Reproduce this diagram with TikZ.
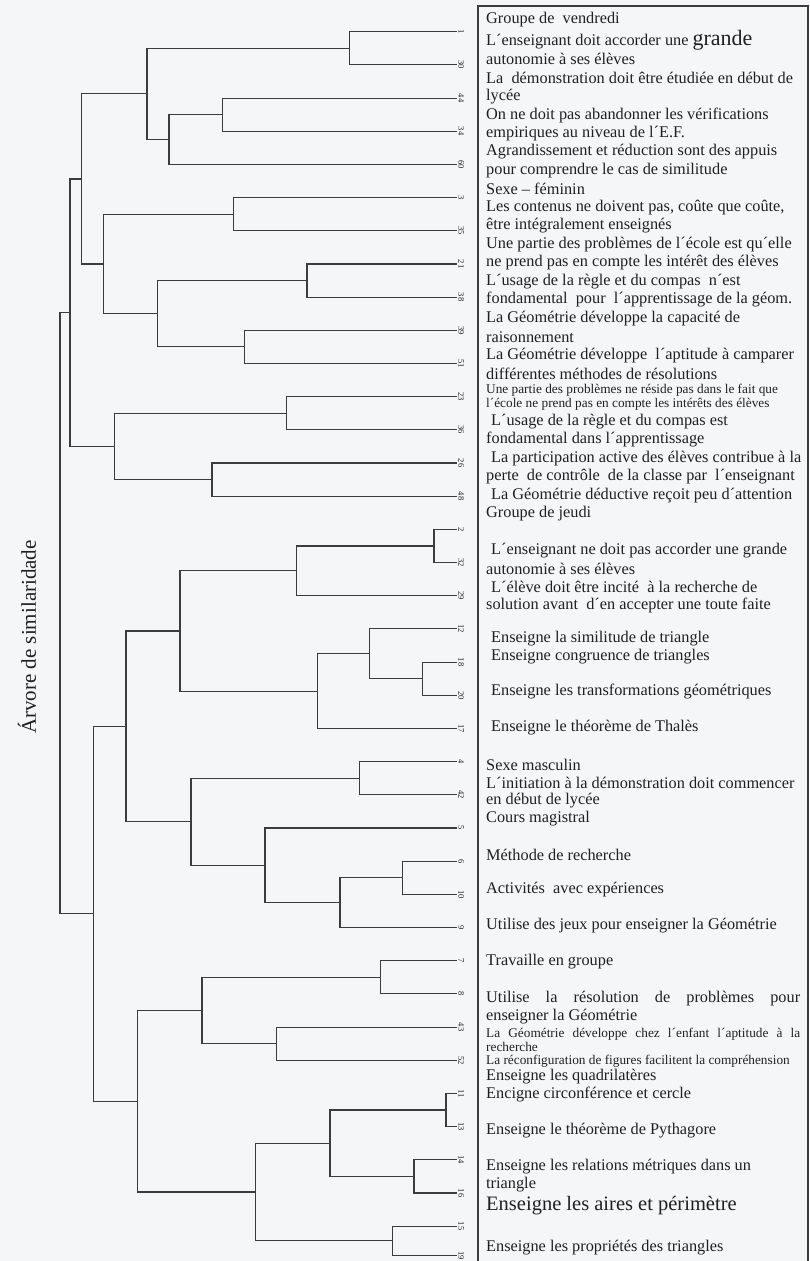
\documentclass[tikz,border=0pt]{standalone}
\usepackage{fontspec}
\setmainfont{Liberation Serif}
\definecolor{ink}{RGB}{32,32,32}
\definecolor{wire}{RGB}{60,60,60}
\definecolor{paper}{RGB}{244,246,248}

\tikzset{
  branch/.style={draw=wire, line width=1.1pt},
  leaflab/.style={rotate=-90, anchor=south, inner sep=1.5pt, text=ink, font=\fontsize{8.5}{8.5}\selectfont},
  item/.style={anchor=west, inner sep=0pt, text=ink, font=\fontsize{16.3}{16.3}\selectfont},
  smallitem/.style={item, font=\fontsize{13.3}{13.3}\selectfont}
}

\begin{document}
\begin{tikzpicture}[x=1pt,y=-1pt]
\useasboundingbox (0,0) rectangle (809,1261);
\fill[paper] (0,0) rectangle (809,1261);

% title
\node[rotate=90, text=ink, font=\fontsize{21}{21}\selectfont] (title) at (27,637) {Árvore de similaridade};

% leaves
\coordinate (v1) at (456.7,31.7);    \node[leaflab] (lb1) at (v1) {1};
\coordinate (v30) at (456.7,64.9);   \node[leaflab] (lb30) at (v30) {30};
\coordinate (v44) at (456.7,98.1);   \node[leaflab] (lb44) at (v44) {44};
\coordinate (v34) at (456.7,131.2);  \node[leaflab] (lb34) at (v34) {34};
\coordinate (v60) at (456.7,164.4);  \node[leaflab] (lb60) at (v60) {60};
\coordinate (v3) at (456.7,197.6);   \node[leaflab] (lb3) at (v3) {3};
\coordinate (v35) at (456.7,230.8);  \node[leaflab] (lb35) at (v35) {35};
\coordinate (v21) at (456.7,264.0);  \node[leaflab] (lb21) at (v21) {21};
\coordinate (v38) at (456.7,297.1);  \node[leaflab] (lb38) at (v38) {38};
\coordinate (v39) at (456.7,330.3);  \node[leaflab] (lb39) at (v39) {39};
\coordinate (v51) at (456.7,363.5);  \node[leaflab] (lb51) at (v51) {51};
\coordinate (v23) at (456.7,396.7);  \node[leaflab] (lb23) at (v23) {23};
\coordinate (v36) at (456.7,429.9);  \node[leaflab] (lb36) at (v36) {36};
\coordinate (v26) at (456.7,463.0);  \node[leaflab] (lb26) at (v26) {26};
\coordinate (v48) at (456.7,496.2);  \node[leaflab] (lb48) at (v48) {48};
\coordinate (v2) at (456.7,529.4);   \node[leaflab] (lb2) at (v2) {2};
\coordinate (v32) at (456.7,562.6);  \node[leaflab] (lb32) at (v32) {32};
\coordinate (v29) at (456.7,595.8);  \node[leaflab] (lb29) at (v29) {29};
\coordinate (v12) at (456.7,628.9);  \node[leaflab] (lb12) at (v12) {12};
\coordinate (v18) at (456.7,662.1);  \node[leaflab] (lb18) at (v18) {18};
\coordinate (v20) at (456.7,695.3);  \node[leaflab] (lb20) at (v20) {20};
\coordinate (v17) at (456.7,728.5);  \node[leaflab] (lb17) at (v17) {17};
\coordinate (v4) at (456.7,761.7);   \node[leaflab] (lb4) at (v4) {4};
\coordinate (v42) at (456.7,794.8);  \node[leaflab] (lb42) at (v42) {42};
\coordinate (v5) at (456.7,828.0);   \node[leaflab] (lb5) at (v5) {5};
\coordinate (v6) at (456.7,861.2);   \node[leaflab] (lb6) at (v6) {6};
\coordinate (v10) at (456.7,894.4);  \node[leaflab] (lb10) at (v10) {10};
\coordinate (v9) at (456.7,927.6);   \node[leaflab] (lb9) at (v9) {9};
\coordinate (v7) at (456.7,960.7);   \node[leaflab] (lb7) at (v7) {7};
\coordinate (v8) at (456.7,993.9);   \node[leaflab] (lb8) at (v8) {8};
\coordinate (v43) at (456.7,1027.1); \node[leaflab] (lb43) at (v43) {43};
\coordinate (v52) at (456.7,1060.3); \node[leaflab] (lb52) at (v52) {52};
\coordinate (v11) at (456.7,1093.5); \node[leaflab] (lb11) at (v11) {11};
\coordinate (v13) at (456.7,1126.6); \node[leaflab] (lb13) at (v13) {13};
\coordinate (v14) at (456.7,1159.8); \node[leaflab] (lb14) at (v14) {14};
\coordinate (v16) at (456.7,1193.0); \node[leaflab] (lb16) at (v16) {16};
\coordinate (v15) at (456.7,1226.2); \node[leaflab] (lb15) at (v15) {15};
\coordinate (v19) at (456.7,1255.5); \node[leaflab] (lb19) at (v19) {19};

% merges
\coordinate (ma) at (349.3,48.3);
\coordinate (mb) at (222.3,114.7);
\coordinate (mc) at (169,139.5);
\coordinate (md) at (147,93.9);
\coordinate (me) at (233.3,214.2);
\coordinate (mf) at (307,280.6);
\coordinate (mg) at (244.3,346.9);
\coordinate (mh) at (157.3,313.7);
\coordinate (mi) at (103.7,264);
\coordinate (mj) at (81.7,179);
\coordinate (ml) at (286.7,413.3);
\coordinate (mm) at (212,479.6);
\coordinate (mn) at (114.3,446.5);
\coordinate (mk) at (70,312.7);
\coordinate (mu) at (434,546);
\coordinate (mt) at (296.7,570.9);
\coordinate (mx) at (422.7,678.7);
\coordinate (mw) at (369.3,653.8);
\coordinate (mv) at (317.3,691.2);
\coordinate (ms) at (180,631);
\coordinate (mz) at (359.3,778.3);
\coordinate (mac) at (402.7,877.8);
\coordinate (mab) at (340,902.7);
\coordinate (maa) at (265,865.4);
\coordinate (my) at (191,821.8);
\coordinate (mr) at (126,726.4);
\coordinate (maf) at (380.7,977.3);
\coordinate (mag) at (276.3,1043.7);
\coordinate (mae) at (202,1010.5);
\coordinate (maj) at (446,1110);
\coordinate (mak) at (414,1176.4);
\coordinate (mai) at (330,1143.2);
\coordinate (mal) at (392.7,1240.8);
\coordinate (mah) at (255.7,1192);
\coordinate (mad) at (137.7,1101.3);
\coordinate (mq) at (93.3,913.9);
\coordinate (mp) at (60,613.3);

% branches
\draw[branch] (v1) -| (ma) |- (v30);
\draw[branch] (v44) -| (mb) |- (v34);
\draw[branch] (mb) -| (mc) |- (v60);
\draw[branch] (ma) -| (md) |- (mc);
\draw[branch] (v3) -| (me) |- (v35);
\draw[branch] (v21) -| (mf) |- (v38);
\draw[branch] (v39) -| (mg) |- (v51);
\draw[branch] (mf) -| (mh) |- (mg);
\draw[branch] (me) -| (mi) |- (mh);
\draw[branch] (md) -| (mj) |- (mi);
\draw[branch] (v23) -| (ml) |- (v36);
\draw[branch] (v26) -| (mm) |- (v48);
\draw[branch] (ml) -| (mn) |- (mm);
\draw[branch] (mj) -| (mk) |- (mn);
\draw[branch] (v2) -| (mu) |- (v32);
\draw[branch] (mu) -| (mt) |- (v29);
\draw[branch] (v18) -| (mx) |- (v20);
\draw[branch] (v12) -| (mw) |- (mx);
\draw[branch] (mw) -| (mv) |- (v17);
\draw[branch] (mt) -| (ms) |- (mv);
\draw[branch] (v4) -| (mz) |- (v42);
\draw[branch] (v6) -| (mac) |- (v10);
\draw[branch] (mac) -| (mab) |- (v9);
\draw[branch] (v5) -| (maa) |- (mab);
\draw[branch] (mz) -| (my) |- (maa);
\draw[branch] (ms) -| (mr) |- (my);
\draw[branch] (v7) -| (maf) |- (v8);
\draw[branch] (v43) -| (mag) |- (v52);
\draw[branch] (maf) -| (mae) |- (mag);
\draw[branch] (v11) -| (maj) |- (v13);
\draw[branch] (v14) -| (mak) |- (v16);
\draw[branch] (maj) -| (mai) |- (mak);
\draw[branch] (v15) -| (mal) |- (v19);
\draw[branch] (mai) -| (mah) |- (mal);
\draw[branch] (mae) -| (mad) |- (mah);
\draw[branch] (mr) -| (mq) |- (mad);
\draw[branch] (mk) -| (mp) |- (mq);

% legend box
\draw[wire, line width=1.3pt] (478,1265) -- (478,6) -- (808,6) -- (808,1265);

\node[item] (t1) at (486,20) {Groupe de~ vendredi};
\node[item] (t2) at (486,40) {L´enseignant doit accorder une {\fontsize{22}{22}\selectfont grande}};
\node[item] (t3) at (486,59) {autonomie à ses élèves};
\node[item] (t4) at (486,78) {La~ démonstration doit être étudiée en début de};
\node[item] (t5) at (486,96.5) {lycée};
\node[item] (t6) at (486,115) {On ne doit pas abandonner les vérifications};
\node[item] (t7) at (486,133.5) {empiriques au niveau de l´E.F.};
\node[item] (t8) at (486,152) {Agrandissement et réduction sont des appuis};
\node[item] (t9) at (486,170.5) {pour comprendre le cas de similitude};
\node[item] (t10) at (486,189) {Sexe -- féminin};
\node[item] (t11) at (486,207.5) {Les contenus ne doivent pas, coûte que coûte,};
\node[item] (t12) at (486,226) {être intégralement enseignés};
\node[item] (t13) at (486,244.5) {Une partie des problèmes de l´école est qu´elle};
\node[item] (t14) at (486,263) {ne prend pas en compte les intérêt des élèves};
\node[item] (t15) at (486,281.5) {L´usage de la règle et du compas~ n´est};
\node[item] (t16) at (486,300) {fondamental~ pour~ l´apprentissage de la géom.};
\node[item] (t17) at (486,318.5) {La Géométrie développe la capacité de};
\node[item] (t18) at (486,337) {raisonnement};
\node[item] (t19) at (486,355.5) {La Géométrie développe~ l´aptitude à camparer};
\node[item] (t20) at (486,374) {différentes méthodes de résolutions};
\node[smallitem] (t21) at (486,390) {Une partie des problèmes ne réside pas dans le fait que};
\node[smallitem] (t22) at (486,404.5) {l´école ne prend pas en compte les intérêts des élèves};
\node[item] (t23) at (491,421.5) {L´usage de la règle et du compas est};
\node[item] (t24) at (486,440) {fondamental dans l´apprentissage};
\node[item] (t25) at (491,458.5) {La participation active des élèves contribue à la};
\node[item] (t26) at (486,477) {perte~ de contrôle~ de la classe par~ l´enseignant};
\node[item] (t27) at (491,495.5) {La Géométrie déductive reçoit peu d´attention};
\node[item] (t28) at (486,514) {Groupe de jeudi};
\node[item] (t29) at (491,551) {L´enseignant ne doit pas accorder une grande};
\node[item] (t30) at (486,569) {autonomie à ses élèves};
\node[item] (t31) at (491,587) {L´élève doit être incité~ à la recherche de};
\node[item] (t32) at (486,605) {solution avant~ d´en accepter une toute faite};
\node[item] (t33) at (491,639) {Enseigne la similitude de triangle};
\node[item] (t34) at (491,657) {Enseigne congruence de triangles};
\node[item] (t35) at (491,692) {Enseigne les transformations géométriques};
\node[item] (t36) at (491,728) {Enseigne le théorème de Thalès};
\node[item] (t37) at (486,765) {Sexe masculin};
\node[item] (t38) at (486,783) {L´initiation à la démonstration doit commencer};
\node[item] (t39) at (486,801) {en début de lycée};
\node[item] (t40) at (486,819) {Cours magistral};
\node[item] (t41) at (486,855) {Méthode de recherche};
\node[item] (t42) at (486,890) {Activités~ avec expériences};
\node[item] (t43) at (486,926) {Utilise des jeux pour enseigner la Géométrie};
\node[item] (t44) at (486,962) {Travaille en groupe};
\node[item] (t45) at (486,999) {\makebox[314pt][s]{Utilise la résolution de problèmes pour}};
\node[item] (t46) at (486,1017) {enseigner la Géométrie};
\node[smallitem] (t47) at (486,1034) {\makebox[314pt][s]{La Géométrie développe chez l´enfant l´aptitude à la}};
\node[smallitem] (t48) at (486,1047) {recherche};
\node[smallitem] (t49) at (486,1061) {La réconfiguration de figures facilitent la compréhension};
\node[item] (t50) at (486,1077) {Enseigne les quadrilatères};
\node[item] (t51) at (486,1095) {Encigne circonférence et cercle};
\node[item] (t52) at (486,1131) {Enseigne le théorème de Pythagore};
\node[item] (t53) at (486,1167) {Enseigne les relations métriques dans un};
\node[item] (t54) at (486,1185) {triangle};
\node[item, font=\fontsize{20.5}{20.5}\selectfont] (t55) at (486,1206) {Enseigne les aires et périmètre};
\node[item] (t56) at (486,1248) {Enseigne les propriétés des triangles};
\end{tikzpicture}
\end{document}
